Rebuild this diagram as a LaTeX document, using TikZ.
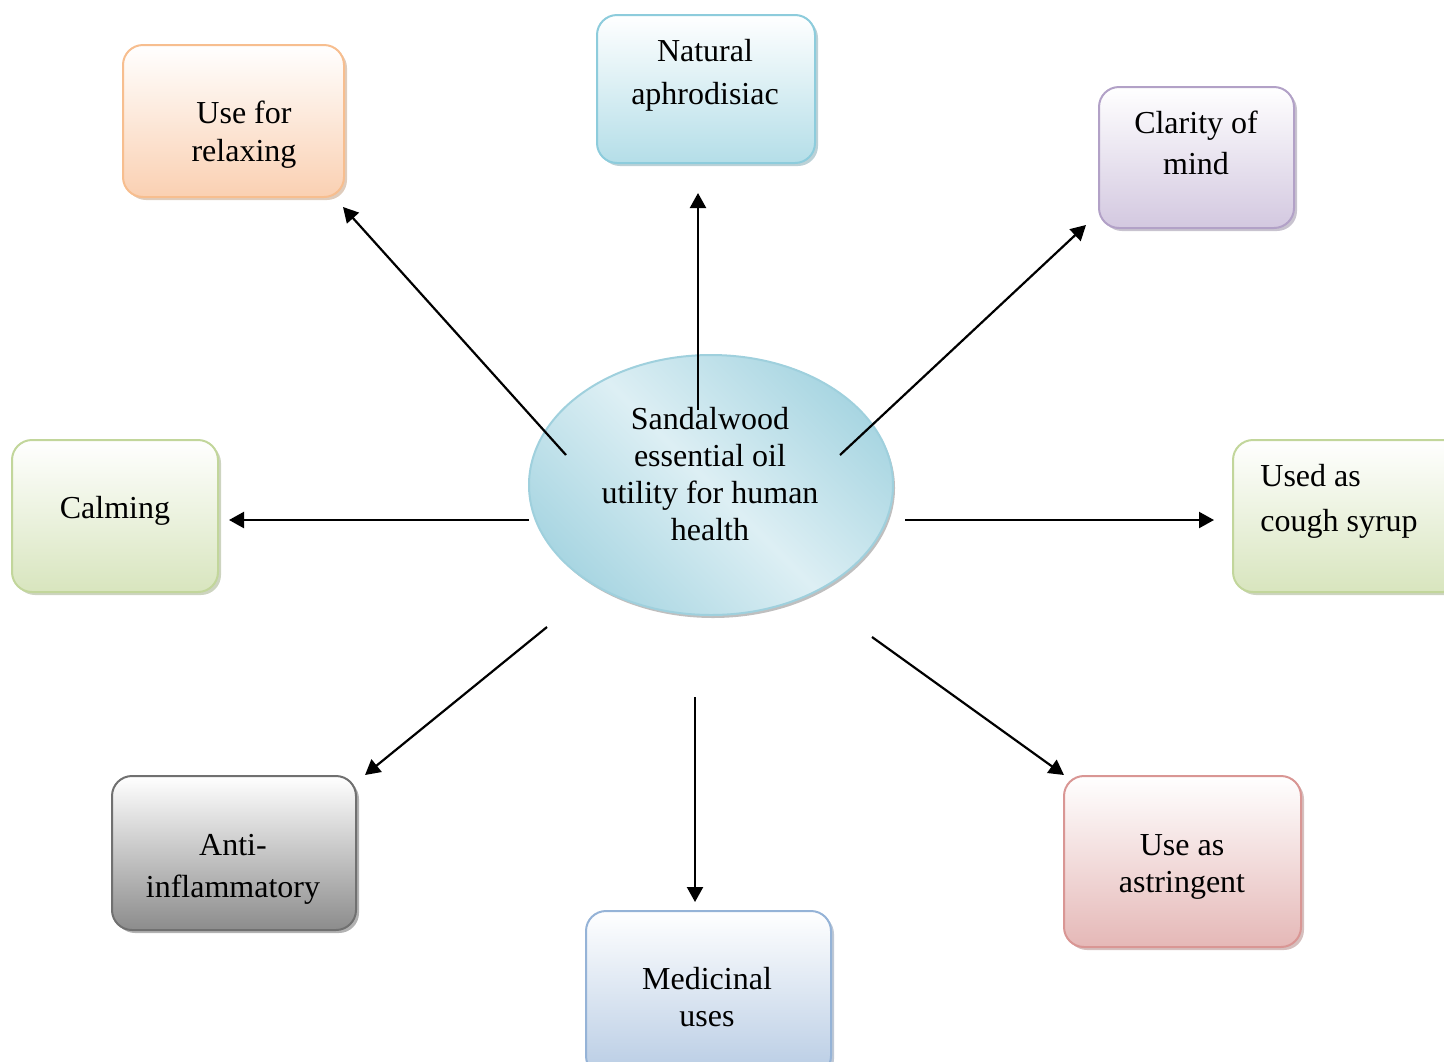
\documentclass[tikz,border=0pt]{standalone}
\usepackage{fontspec}
\setmainfont{Liberation Serif}
\usepackage{tikz}
\usepackage{xcolor}
\usetikzlibrary{shapes.geometric,shadows,arrows.meta}

\definecolor{orangeline}{HTML}{F7BE8F}
\definecolor{orangefill}{HTML}{FAD0B2}
\definecolor{aqualine}{HTML}{8DCCDC}
\definecolor{aquafill}{HTML}{B4DEE8}
\definecolor{lilacline}{HTML}{B2A1C7}
\definecolor{lilacfill}{HTML}{D3C8E0}
\definecolor{greenline}{HTML}{C2D69B}
\definecolor{greenfill}{HTML}{D8E5BE}
\definecolor{greyline}{HTML}{707070}
\definecolor{greyfill}{HTML}{8C8C8C}
\definecolor{blueline}{HTML}{95B3D7}
\definecolor{bluefill}{HTML}{B8CCE4}
\definecolor{redline}{HTML}{D99694}
\definecolor{redfill}{HTML}{E5B8B7}
\definecolor{ovalline}{HTML}{9FD0DD}
\definecolor{ovaldark}{HTML}{A9D6E2}
\definecolor{ovallight}{HTML}{DDEFF4}

\begin{document}
\begin{tikzpicture}[x=0.5pt, y=-0.5pt,
        box/.style 2 args={draw=#1, line width=1pt, rounded corners=10pt,
            top color=white, bottom color=#2,
            drop shadow={shadow xshift=1.5pt, shadow yshift=-1.5pt, fill=#1!75!black, opacity=0.45}},
        txt/.style={align=center, inner sep=0pt, font=\fontsize{16}{#1}\selectfont},
        txt/.default=18.5pt,
        arr/.style={line width=1.1pt, -{Triangle[length=7.5pt, width=8pt]}}]
        \useasboundingbox (0,0) rectangle (1444,1061);

        \node [ellipse, draw=ovalline, line width=1pt, minimum width=182pt, minimum height=130pt,
            top color=ovaldark, bottom color=ovaldark, middle color=ovallight, shading angle=-45,
            drop shadow={shadow xshift=1pt, shadow yshift=-1.5pt, fill=gray, opacity=0.5}] (oil) at (711,485) {};

        \node [box={orangeline}{orangefill}, minimum width=110.5pt, minimum height=76pt] (relax) at (233.5,121) {};
        \node [box={aqualine}{aquafill}, minimum width=109pt, minimum height=74pt] (aphro) at (706,89) {};
        \node [box={lilacline}{lilacfill}, minimum width=97.5pt, minimum height=70.5pt] (clarity) at (1196.5,157.5) {};
        \node [box={greenline}{greenfill}, minimum width=103pt, minimum height=76pt] (calm) at (115,516) {};
        \node [box={greenline}{greenfill}, minimum width=115pt, minimum height=76pt] (cough) at (1348,516) {};
        \node [box={greyline}{greyfill}, minimum width=122pt, minimum height=77pt] (anti) at (234,853) {};
        \node [box={blueline}{bluefill}, minimum width=122.5pt, minimum height=82.5pt] (med) at (708.5,993.5) {};
        \node [box={redline}{redfill}, minimum width=118.5pt, minimum height=85.5pt] (astr) at (1182.5,861.5) {};

        \coordinate (t-relax) at (566,455);
        \coordinate (t-aphro) at (698,410);
        \coordinate (t-clarity) at (840,455);
        \coordinate (t-calm) at (529,520);
        \coordinate (t-cough) at (905,520);
        \coordinate (t-anti) at (547,627);
        \coordinate (t-med) at (695,697);
        \coordinate (t-astr) at (872,637);

        \coordinate (h-relax) at (343,207);
        \coordinate (h-aphro) at (698,193);
        \coordinate (h-clarity) at (1086,225);
        \coordinate (h-calm) at (229,520);
        \coordinate (h-cough) at (1214,520);
        \coordinate (h-anti) at (365,775);
        \coordinate (h-med) at (695,902);
        \coordinate (h-astr) at (1064,775);

        \draw [arr] (t-relax) -- (h-relax);
        \draw [arr] (t-aphro) -- (h-aphro);
        \draw [arr] (t-clarity) -- (h-clarity);
        \draw [arr] (t-calm) -- (h-calm);
        \draw [arr] (t-cough) -- (h-cough);
        \draw [arr] (t-anti) -- (h-anti);
        \draw [arr] (t-med) -- (h-med);
        \draw [arr] (t-astr) -- (h-astr);

        \node [txt] (oil-text) at (710,474) {Sandalwood\\essential oil\\utility for human\\health};
        \node [txt=19pt] (relax-text) at (244,135) {Use for\\relaxing};
        \node [txt=21.5pt] (aphro-text) at (705,75) {Natural\\aphrodisiac};
        \node [txt=20.5pt] (clarity-text) at (1196,143) {Clarity of\\mind};
        \node [txt] (calm-text) at (115,511) {Calming};
        \node [txt=22.5pt, align=left, anchor=west] (cough-text) at (1260,501) {Used as\\cough syrup};
        \node [txt=21pt] (anti-text) at (233,869) {Anti-\\inflammatory};
        \node [txt] (med-text) at (707,997.5) {Medicinal\\uses};
        \node [txt] (astr-text) at (1182,866.5) {Use as\\astringent};

    \end{tikzpicture}
\end{document}
